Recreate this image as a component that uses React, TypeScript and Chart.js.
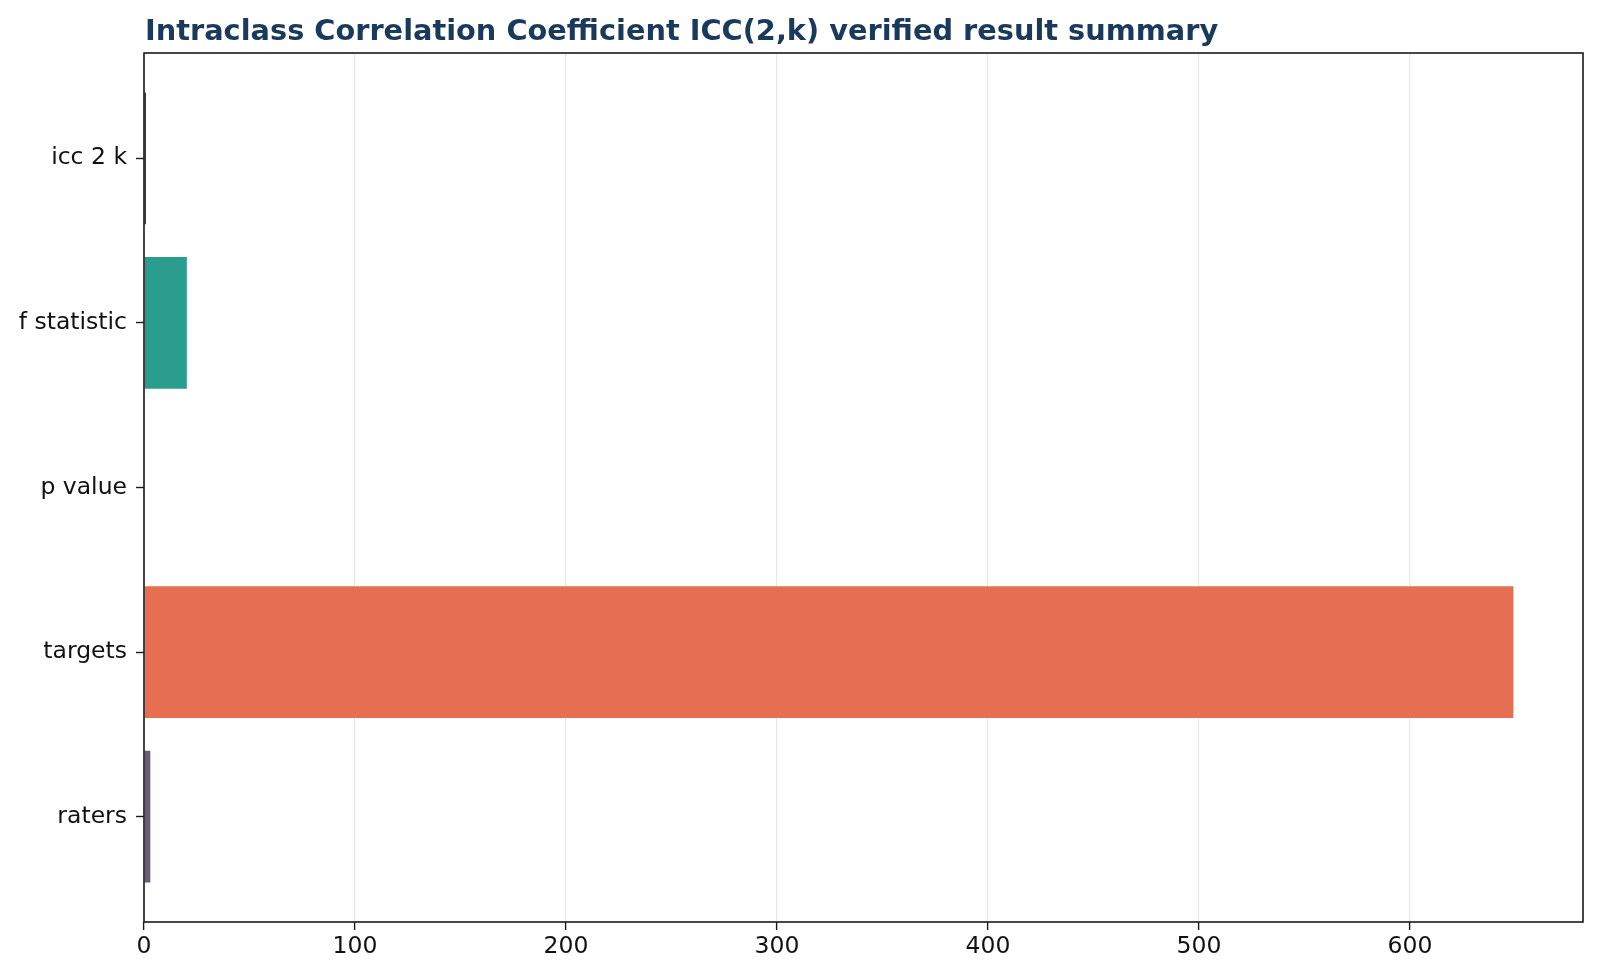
import { useEffect, useRef } from 'react';
import { Chart, registerables } from 'chart.js';

Chart.register(...registerables);

const METRICS = ['icc 2 k', 'f statistic', 'p value', 'targets', 'raters'];
const VALUES = [0.93, 20.3, 0, 649, 3];
const BAR_COLORS = ['#1d3557', '#2a9d8f', '#e9c46a', '#e76f51', '#6d597a'];
const X_TICKS = [0, 100, 200, 300, 400, 500, 600];

const TICK_FONT = { family: 'DejaVu Sans', size: 23.5 };

// box around the plot area, like matplotlib spines
const frame = {
  id: 'frame',
  afterDraw(chart: Chart) {
    const { ctx, chartArea: a } = chart;
    ctx.save();
    ctx.strokeStyle = '#1a1a1a';
    ctx.lineWidth = 1.6;
    ctx.strokeRect(a.left, a.top, a.right - a.left, a.bottom - a.top);
    ctx.restore();
  },
};

export default function App() {
  const canvasRef = useRef<HTMLCanvasElement>(null);
  const chartRef = useRef<Chart | null>(null);

  useEffect(() => {
    document.body.style.margin = '0';
    if (!canvasRef.current) return;
    if (chartRef.current) chartRef.current.destroy();

    chartRef.current = new Chart(canvasRef.current, {
      type: 'bar',
      data: {
        datasets: [
          {
            data: VALUES.map((v, i) => ({ x: v, y: i })),
            backgroundColor: BAR_COLORS,
            borderWidth: 0,
            barPercentage: 0.8,
            categoryPercentage: 1,
          },
        ],
      },
      options: {
        indexAxis: 'y',
        animation: false,
        responsive: true,
        maintainAspectRatio: false,
        layout: { padding: { top: 53, right: 17, left: 0, bottom: 0 } },
        plugins: {
          legend: { display: false },
          tooltip: { enabled: false },
        },
        scales: {
          x: {
            type: 'linear',
            min: -0.0001,
            max: 682,
            afterFit: (s: any) => {
              s.height = 56;
            },
            afterBuildTicks: (s: any) => {
              s.ticks = X_TICKS.map((v) => ({ value: v }));
            },
            ticks: {
              font: TICK_FONT,
              color: '#111',
              padding: 3,
              maxRotation: 0,
              callback: (v: any) => String(Math.round(v)),
            },
            grid: {
              color: '#e8e8e8',
              lineWidth: 1.2,
              tickColor: '#1a1a1a',
              tickLength: 8,
              tickWidth: 1.4,
            },
            border: { display: false },
          },
          y: {
            type: 'linear',
            reverse: true,
            min: -0.64,
            max: 4.64,
            offset: false,
            afterFit: (s: any) => {
              s.width = 144;
            },
            afterBuildTicks: (s: any) => {
              s.ticks = METRICS.map((_, i) => ({ value: i }));
            },
            ticks: {
              font: TICK_FONT,
              color: '#111',
              padding: 9,
              callback: (v: any) => METRICS[Math.round(v)] ?? '',
            },
            grid: {
              offset: false,
              color: 'rgba(0,0,0,0)',
              tickColor: '#1a1a1a',
              tickLength: 8,
              tickWidth: 1.4,
            },
            border: { display: false },
          },
        },
      },
      plugins: [frame],
    });

    return () => chartRef.current?.destroy();
  }, []);

  return (
    <div style={{ position: 'relative', width: 1600, height: 978, background: '#fff' }}>
      <div
        style={{
          position: 'absolute',
          left: 145,
          top: 16,
          fontFamily: 'DejaVu Sans',
          fontWeight: 'bold',
          fontSize: 28.8,
          lineHeight: 1,
          color: '#1a3a5c',
          whiteSpace: 'nowrap',
        }}
      >
        Intraclass Correlation Coefficient ICC(2,k) verified result summary
      </div>
      <canvas ref={canvasRef} />
    </div>
  );
}
